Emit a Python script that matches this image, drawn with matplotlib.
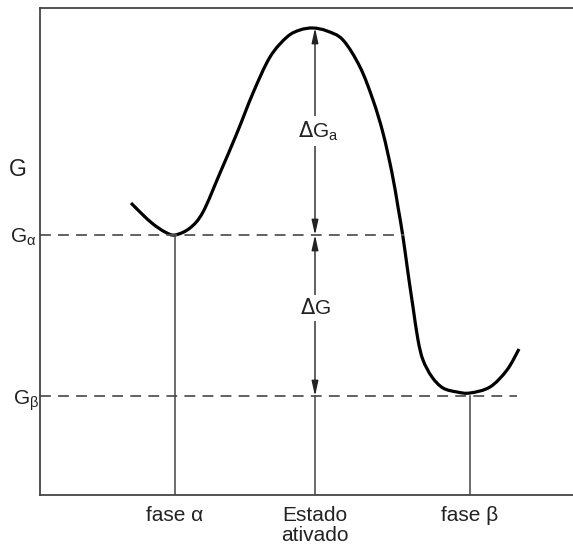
import numpy as np
from matplotlib import pyplot as plt
from matplotlib.path import Path
from matplotlib.patches import PathPatch

plt.rcParams['font.family'] = ['Liberation Sans', 'DejaVu Sans']

# curve (x, y in picture pixels, y grows downward)
curve_x = [131, 142, 153, 165, 175, 190, 203, 220, 237, 253, 270, 287, 300, 313, 327, 343,
           360, 373, 383, 392, 398, 403, 408, 413, 418, 423, 432, 443, 457, 470, 490, 507, 519]
curve_y = [203, 214, 224, 232, 235, 228, 212, 173, 133, 93, 57, 37, 30, 28, 31, 40,
           67, 100, 133, 173, 207, 237, 273, 307, 340, 360, 377, 388, 392, 393, 387, 370, 349]

# levels
G_alpha = 235
G_beta = 396
G_top = 28
x_alpha = 175
x_ativ = 315
x_beta = 470
x_left = 40
y_bottom = 495

xticks = [x_alpha, x_ativ, x_beta]
xlabels = ['fase α', 'Estado\nativado', 'fase β']


def smooth_path(xs, ys):
    # catmull-rom through the read points, drawn as cubic bezier segments
    p = np.column_stack([xs, ys]).astype(float)
    p = np.vstack([p[0], p, p[-1]])
    verts = [p[1]]
    codes = [Path.MOVETO]
    for i in range(1, len(p) - 2):
        c1 = p[i] + (p[i + 1] - p[i - 1]) / 6
        c2 = p[i + 1] - (p[i + 2] - p[i]) / 6
        verts += [c1, c2, p[i + 1]]
        codes += [Path.CURVE4] * 3
    return Path(verts, codes)


fig = plt.figure(figsize=(5.73, 5.47), dpi=100)
ax = fig.add_axes([x_left / 573, (547 - y_bottom) / 547, 1 - x_left / 573, (y_bottom - 8) / 547])
ax.set_xlim(x_left, 573)
ax.set_ylim(y_bottom, 8)

for s in ['left', 'top', 'bottom']:
    ax.spines[s].set_color('#444444')
    ax.spines[s].set_linewidth(1.3)
ax.spines['right'].set_visible(False)

ax.set_xticks(xticks)
ax.set_xticklabels(xlabels, fontsize=15, color='#222222', va='top', linespacing=1.05)
ax.tick_params(axis='x', length=0, pad=8)
ax.set_yticks([])

# dashed levels
ax.plot([x_left, 404], [G_alpha, G_alpha], ls=(0, (6, 4)), color='#555555', lw=1.3)
ax.plot([x_left, 517], [G_beta, G_beta], ls=(0, (6, 4)), color='#555555', lw=1.3)

# vertical drop lines
ax.plot([x_alpha, x_alpha], [G_alpha, y_bottom], color='#444444', lw=1.1)
ax.plot([x_ativ, x_ativ], [G_beta, y_bottom], color='#444444', lw=1.1)
ax.plot([x_beta, x_beta], [G_beta, y_bottom], color='#444444', lw=1.1)

# the curve
ax.add_patch(PathPatch(smooth_path(curve_x, curve_y), fill=False, edgecolor='black',
                       lw=2.3, capstyle='butt', joinstyle='round'))

# double arrows
ap = dict(arrowstyle='<|-|>,head_length=0.9,head_width=0.2', color='#222222', lw=1.0,
          shrinkA=0, shrinkB=0)
ax.annotate('', xy=(x_ativ, G_top), xytext=(x_ativ, G_alpha), arrowprops=ap)
ax.annotate('', xy=(x_ativ, G_alpha), xytext=(x_ativ, G_beta), arrowprops=ap)

bb = dict(facecolor='white', edgecolor='none', pad=2)
ax.text(x_ativ + 3, 131, r'$\Delta$G$_\mathregular{a}$', fontsize=15, ha='center', va='center',
        color='#222222', bbox=bb)
ax.text(x_ativ, 308, r'$\Delta$G', fontsize=15, ha='center', va='center',
        color='#222222', bbox=bb)

# y labels
fig.text(9 / 573, 1 - 170 / 547, 'G', fontsize=16.5, ha='left', va='center', color='#222222')
fig.text(10 / 573, 1 - 237 / 547, r'G$_\mathregular{α}$', fontsize=15, ha='left', va='center', color='#222222')
fig.text(13 / 573, 1 - 401 / 547, r'G$_\mathregular{β}$', fontsize=15, ha='left', va='center', color='#222222')

fig.savefig('out.png', dpi=100, facecolor='white')
